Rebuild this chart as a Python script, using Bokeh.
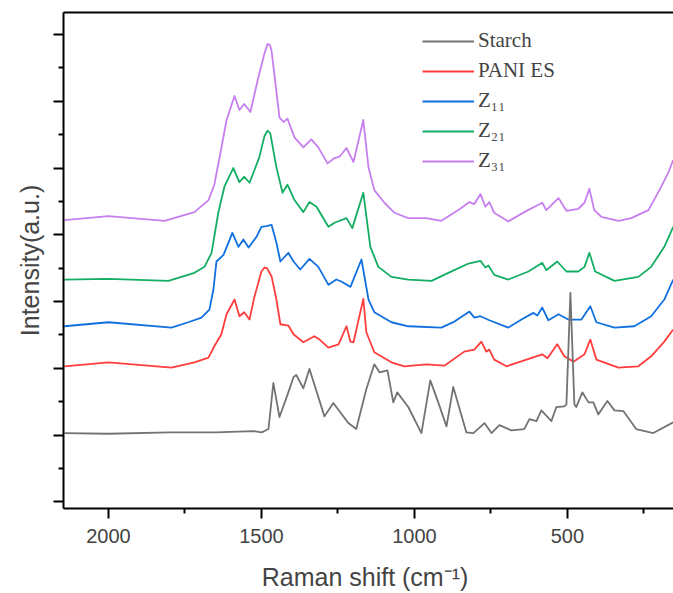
from bokeh.plotting import figure
from bokeh.models import (Range1d, FixedTicker, LinearAxis, Legend, LegendItem,
                          ColumnDataSource)
from bokeh.embed import file_html
from bokeh.resources import INLINE

# ---- data (Raman shift in cm^-1, intensity in a.u., stacked offsets included) ----
starch_x = [2144, 2000, 1800, 1650, 1526, 1500, 1490, 1477, 1461, 1441, 1412, 1395, 1386,
            1363, 1343, 1294, 1265, 1216, 1190, 1157, 1131, 1114, 1088, 1069, 1056, 1020,
            977, 948, 922, 895, 873, 830, 807, 771, 748, 722, 683, 641, 624, 601, 585, 552,
            536, 510, 503, 490, 477, 471, 451, 431, 415, 399, 369, 346, 317, 275, 219, 154]
starch_y = [1.03, 1.02, 1.04, 1.04, 1.06, 1.04, 1.06, 1.09, 1.78, 1.27, 1.64, 1.87, 1.90,
            1.70, 1.99, 1.28, 1.48, 1.18, 1.09, 1.69, 2.06, 1.94, 1.97, 1.49, 1.64, 1.42,
            1.03, 1.82, 1.49, 1.13, 1.72, 1.04, 1.03, 1.18, 1.03, 1.15, 1.07, 1.09, 1.24,
            1.21, 1.37, 1.21, 1.42, 1.43, 1.46, 3.13, 1.46, 1.42, 1.64, 1.49, 1.49, 1.31,
            1.51, 1.37, 1.36, 1.09, 1.03, 1.19]

pani_x = [2144, 2000, 1794, 1719, 1673, 1654, 1631, 1614, 1588, 1572, 1556, 1539, 1523,
          1500, 1490, 1482, 1467, 1451, 1438, 1412, 1395, 1363, 1327, 1310, 1281, 1248,
          1222, 1209, 1199, 1167, 1157, 1131, 1075, 1033, 961, 902, 837, 804, 781, 765,
          755, 739, 699, 641, 582, 565, 533, 510, 480, 444, 425, 405, 333, 268, 226, 183,
          154]
pani_y = [2.03, 2.09, 2.01, 2.09, 2.16, 2.33, 2.51, 2.81, 3.03, 2.78, 2.84, 2.73, 3.07,
          3.45, 3.51, 3.50, 3.38, 3.03, 2.66, 2.64, 2.51, 2.39, 2.48, 2.43, 2.31, 2.36,
          2.63, 2.40, 2.39, 3.04, 2.54, 2.24, 2.09, 2.03, 2.06, 2.04, 2.25, 2.28, 2.40,
          2.25, 2.28, 2.13, 2.03, 2.12, 2.21, 2.15, 2.36, 2.18, 2.10, 2.21, 2.43, 2.13,
          2.01, 2.03, 2.18, 2.40, 2.58]

z11_x = [2144, 2000, 1794, 1739, 1696, 1670, 1657, 1647, 1624, 1595, 1575, 1559, 1542,
         1516, 1500, 1484, 1467, 1451, 1438, 1412, 1395, 1373, 1343, 1314, 1281, 1255,
         1239, 1209, 1173, 1150, 1131, 1075, 1020, 912, 869, 820, 804, 784, 755, 693,
         650, 611, 598, 582, 562, 529, 497, 454, 425, 405, 346, 281, 226, 183, 154]
z11_y = [2.63, 2.69, 2.61, 2.69, 2.76, 2.88, 3.18, 3.60, 3.70, 4.03, 3.82, 3.93, 3.81,
         3.97, 4.12, 4.13, 4.15, 3.88, 3.60, 3.73, 3.60, 3.48, 3.64, 3.52, 3.25, 3.33,
         3.30, 3.22, 3.63, 3.03, 2.84, 2.69, 2.63, 2.61, 2.70, 2.85, 2.76, 2.78, 2.72,
         2.61, 2.73, 2.83, 2.79, 2.91, 2.72, 2.81, 2.73, 2.73, 2.93, 2.69, 2.61, 2.63,
         2.78, 3.03, 3.33]

z21_x = [2144, 2000, 1804, 1719, 1686, 1663, 1641, 1621, 1592, 1572, 1556, 1539, 1507,
         1490, 1480, 1471, 1451, 1431, 1415, 1392, 1363, 1343, 1320, 1281, 1261, 1222,
         1203, 1167, 1144, 1118, 1075, 1020, 944, 889, 823, 784, 768, 758, 739, 693, 627,
         582, 569, 533, 503, 464, 444, 428, 409, 346, 268, 226, 183, 154]
z21_y = [3.33, 3.34, 3.31, 3.43, 3.52, 3.73, 4.33, 4.72, 5.00, 4.79, 4.87, 4.78, 5.16,
         5.48, 5.56, 5.52, 5.01, 4.63, 4.75, 4.52, 4.34, 4.49, 4.42, 4.12, 4.18, 4.25,
         4.10, 4.63, 3.82, 3.52, 3.37, 3.33, 3.31, 3.43, 3.57, 3.61, 3.51, 3.54, 3.40,
         3.33, 3.45, 3.58, 3.47, 3.60, 3.45, 3.45, 3.52, 3.73, 3.45, 3.31, 3.37, 3.52,
         3.82, 4.12]

z31_x = [2144, 2000, 1817, 1719, 1673, 1654, 1631, 1614, 1588, 1572, 1556, 1536, 1510,
         1490, 1480, 1472, 1467, 1441, 1428, 1415, 1392, 1363, 1337, 1314, 1284, 1261,
         1245, 1222, 1199, 1167, 1150, 1131, 1098, 1065, 1020, 961, 912, 856, 820, 804,
         784, 768, 755, 739, 693, 641, 582, 569, 529, 503, 464, 444, 428, 412, 389, 333,
         291, 235, 199, 170, 154]
z31_y = [4.22, 4.28, 4.21, 4.34, 4.52, 4.75, 5.30, 5.72, 6.08, 5.87, 5.96, 5.84, 6.36,
         6.72, 6.86, 6.84, 6.76, 5.76, 5.69, 5.74, 5.46, 5.31, 5.43, 5.31, 5.07, 5.15,
         5.17, 5.30, 5.09, 5.72, 5.01, 4.67, 4.48, 4.33, 4.25, 4.25, 4.21, 4.37, 4.49,
         4.46, 4.61, 4.42, 4.49, 4.33, 4.20, 4.34, 4.48, 4.37, 4.55, 4.36, 4.39, 4.48,
         4.69, 4.37, 4.27, 4.21, 4.25, 4.37, 4.67, 4.93, 5.12]

series_names = ["Starch", "PANI ES", "Z\u2081\u2081", "Z\u2082\u2081", "Z\u2083\u2081"]
series_colors = ["#737373", "#ff3d3d", "#1170e0", "#13ad63", "#c77ff0"]
series_x = [starch_x, pani_x, z11_x, z21_x, z31_x]
series_y = [starch_y, pani_y, z11_y, z21_y, z31_y]

x_major = [2000, 1500, 1000, 500]
x_minor = [1750, 1250, 750, 250]
y_major = [0, 1, 2, 3, 4, 5, 6, 7]
y_minor = [0.5, 1.5, 2.5, 3.5, 4.5, 5.5, 6.5]

# ---- figure ----
p = figure(width=673, height=593, output_backend="svg", toolbar_location=None,
           x_range=Range1d(2147, 153), y_range=Range1d(-0.1, 7.33),
           min_border_left=63, min_border_right=0, min_border_top=12,
           min_border_bottom=83, background_fill_color="white",
           border_fill_color="white")
p.outline_line_color = None
p.xgrid.visible = False
p.ygrid.visible = False

renderers = {}
# draw purple first, starch last (starch peak appears on top)
for i in reversed(range(5)):
    src = ColumnDataSource(dict(x=series_x[i], y=series_y[i]))
    renderers[i] = p.line("x", "y", source=src, line_color=series_colors[i],
                          line_width=1.8, line_join="round")

sans = "Liberation Sans"

xa = p.xaxis[0]
xa.ticker = FixedTicker(ticks=x_major, minor_ticks=x_minor)
xa.axis_label = "Raman shift  (cm\u207b\u00b9)"
xa.axis_label_text_font = sans
xa.axis_label_text_font_size = "25px"
xa.axis_label_text_font_style = "normal"
xa.axis_label_standoff = 17
xa.major_label_text_font = sans
xa.major_label_text_font_size = "20px"
xa.major_label_standoff = 10
xa.axis_line_width = 2
xa.major_tick_line_width = 2
xa.minor_tick_line_width = 2
xa.major_tick_out = 10
xa.major_tick_in = 0
xa.minor_tick_out = 5
xa.minor_tick_in = 0

ya = p.yaxis[0]
ya.ticker = FixedTicker(ticks=y_major, minor_ticks=y_minor)
ya.major_label_overrides = {t: "" for t in y_major}
ya.axis_label = "Intensity(a.u.)"
ya.axis_label_text_font = sans
ya.axis_label_text_font_size = "25px"
ya.axis_label_text_font_style = "normal"
ya.axis_label_standoff = 10
ya.major_label_standoff = 0
ya.axis_line_width = 2
ya.major_tick_line_width = 2
ya.minor_tick_line_width = 2
ya.major_tick_out = 10
ya.major_tick_in = 0
ya.minor_tick_out = 5
ya.minor_tick_in = 0

top = LinearAxis(ticker=FixedTicker(ticks=[]), axis_line_width=2,
                 major_tick_line_color=None, minor_tick_line_color=None,
                 major_label_standoff=0, major_tick_out=0, minor_tick_out=0)
p.add_layout(top, "above")

items = [LegendItem(label=series_names[i], renderers=[renderers[i]]) for i in range(5)]
legend = Legend(items=items, location=(359, 335), border_line_color=None,
                background_fill_alpha=0, padding=0, margin=0, spacing=5,
                glyph_width=52, glyph_height=24, label_height=24, label_standoff=4,
                label_text_font="Liberation Serif", label_text_font_size="21px")
p.add_layout(legend)

open("out.html", "w").write(file_html(p, INLINE))
